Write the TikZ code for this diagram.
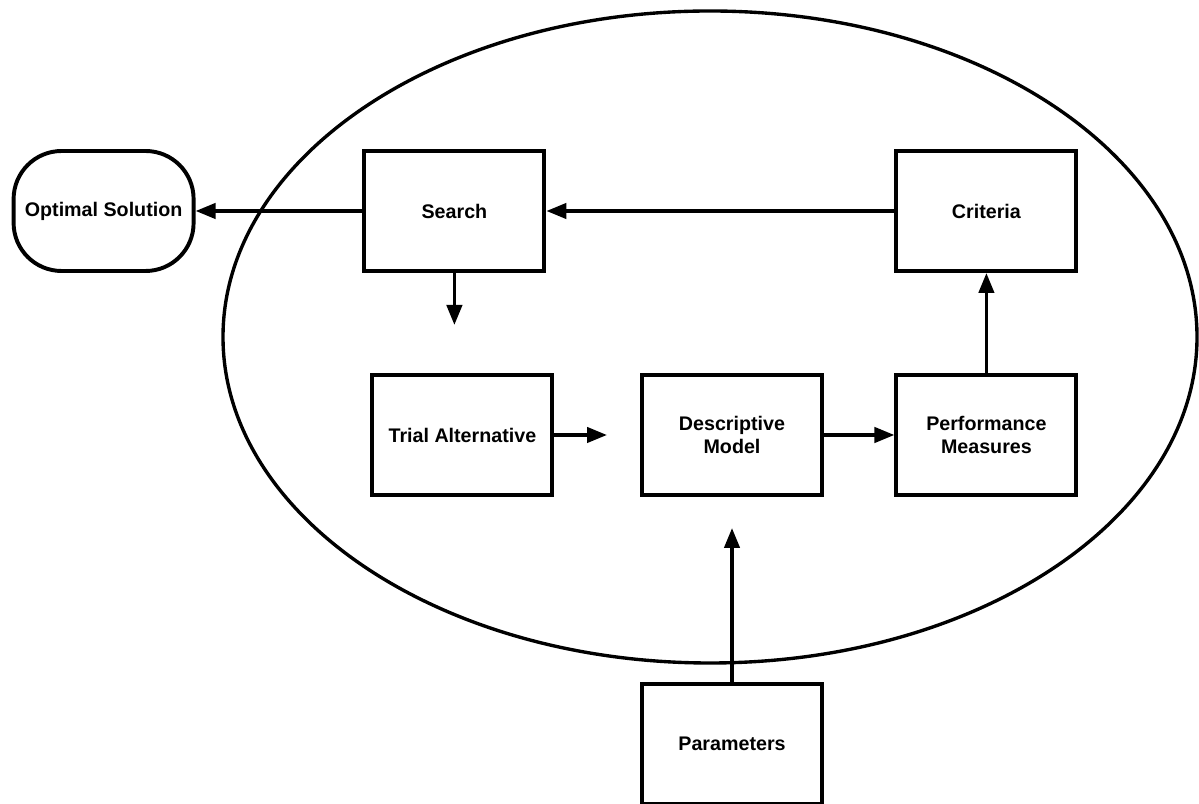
\documentclass[tikz,border=0pt]{standalone}
\usepackage{fontspec}
\setmainfont{Liberation Sans}
\usetikzlibrary{arrows.meta}

\begin{document}
\begin{tikzpicture}[
	box/.style={draw,line width=2.8pt,minimum width=4.5cm,minimum height=3cm,align=center,font=\fontsize{14}{16.5}\selectfont\bfseries},
	flow/.style={line width=2.6pt,-{Triangle[length=0.5cm,width=0.38cm]}}]

	\useasboundingbox (0,0) rectangle (29.975,20.1);

	\draw [line width=2.4pt] (17.75,11.675) ellipse [x radius=12.175,y radius=8.15];

	\node (optimal) at (2.59,14.825) [box,rounded corners=1.2cm] {Optimal Solution};
	\node (search) at (11.36,14.825) [box] {Search};
	\node (criteria) at (24.66,14.825) [box] {Criteria};
	\node (trial) at (11.56,9.225) [box] {Trial Alternative};
	\node (model) at (18.3,9.225) [box] {Descriptive\\Model};
	\node (perf) at (24.66,9.225) [box] {Performance\\Measures};
	\node (param) at (18.3,1.5) [box] {Parameters};

	\coordinate (searchend) at (11.36,11.975);
	\coordinate (trialend) at (15.175,9.225);
	\coordinate (paramend) at (18.3,6.9);

	\draw [flow] (search) -- (optimal);
	\draw [flow] (criteria) -- (search);
	\draw [flow] (search.south) -- (searchend);
	\draw [flow] (trial) -- (trialend);
	\draw [flow] (model) -- (perf);
	\draw [flow] (perf) -- (criteria);
	\draw [flow] (param) -- (paramend);

\end{tikzpicture}
\end{document}
